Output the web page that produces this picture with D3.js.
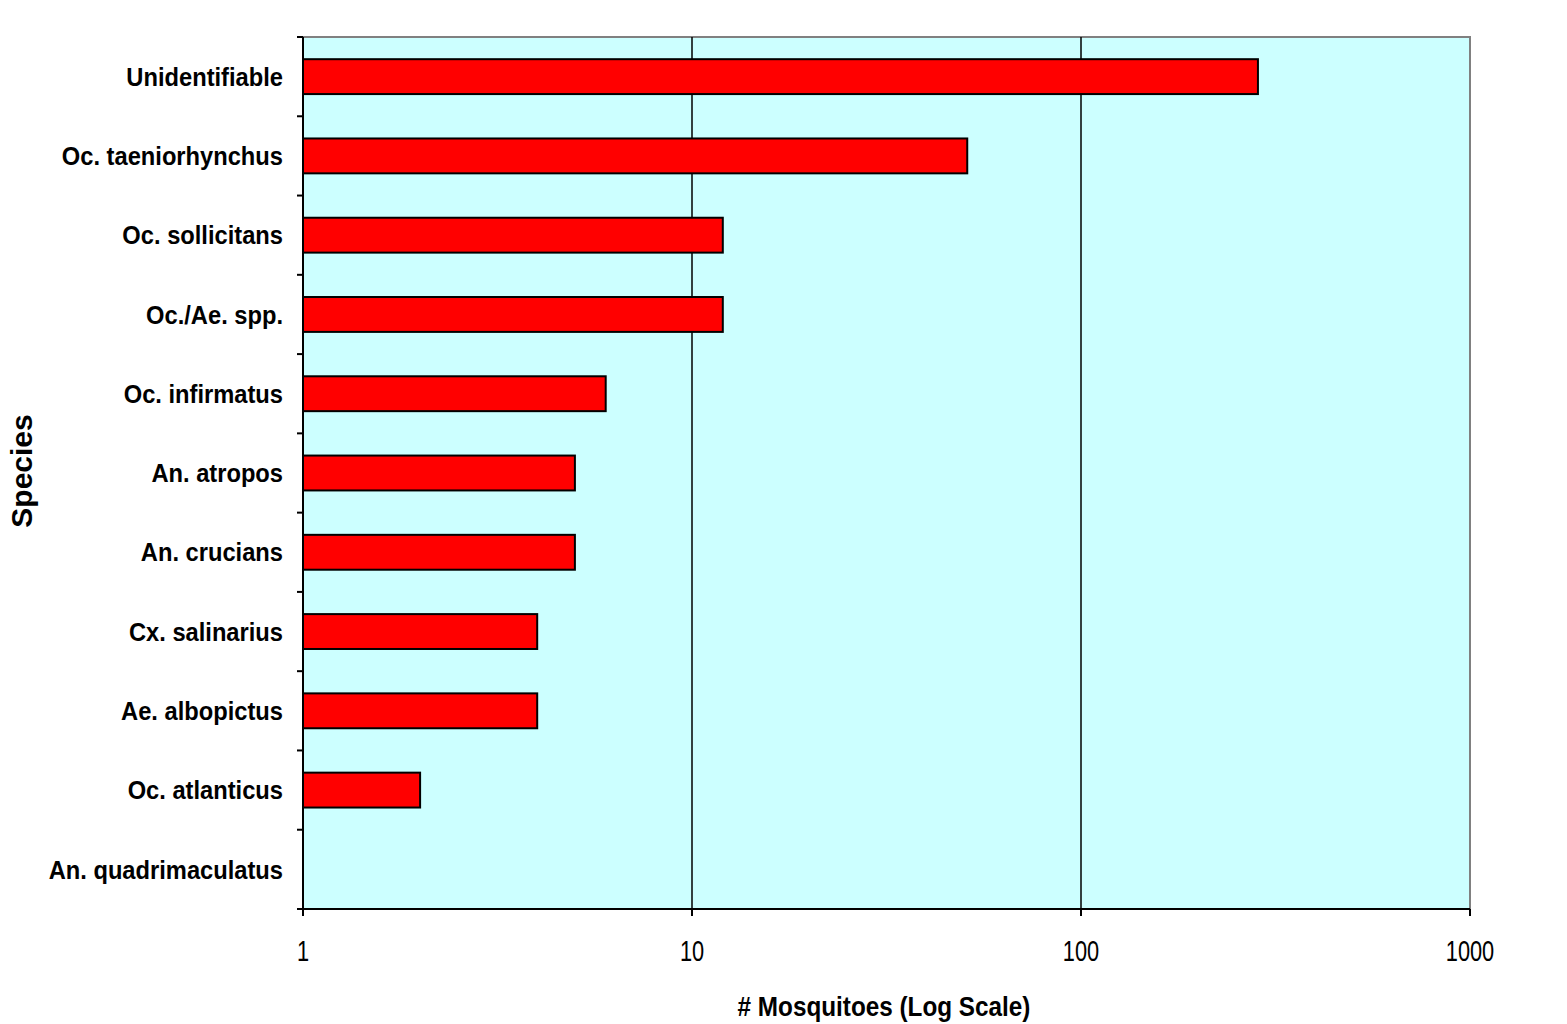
<!DOCTYPE html>
<html><head><meta charset="utf-8">
<script src="https://cdn.jsdelivr.net/npm/d3@7"></script>
<style>body{margin:0;background:#fff;} svg{display:block;}</style>
</head><body>
<svg id="c" width="1567" height="1024"></svg>
<script>
const categories = ["Unidentifiable","Oc. taeniorhynchus","Oc. sollicitans","Oc./Ae. spp.","Oc. infirmatus","An. atropos","An. crucians","Cx. salinarius","Ae. albopictus","Oc. atlanticus","An. quadrimaculatus"];
const counts = [285, 51, 12, 12, 6, 5, 5, 4, 4, 2, 1];
const xTicks = [1, 10, 100, 1000];

const FONT = "Liberation Sans, Arial, sans-serif";
const svg = d3.select("#c");
const L = 303, R = 1470, T = 37, B = 909;
const x = d3.scaleLog().domain([1, 1000]).range([L, R]);
const y = d3.scaleBand().domain(categories).range([T, B]).paddingInner(0.56).paddingOuter(0.28);

svg.append("rect").attr("x", L).attr("y", T).attr("width", R - L).attr("height", B - T)
  .attr("fill", "#ccffff").attr("stroke", "#808080").attr("stroke-width", 2);

// gridlines
svg.append("g").selectAll("line").data(xTicks.slice(1, -1)).join("line")
  .attr("x1", d => x(d)).attr("x2", d => x(d)).attr("y1", T).attr("y2", B)
  .attr("stroke", "#000").attr("stroke-width", 1.5);

// bars
svg.append("g").selectAll("rect").data(categories).join("rect")
  .attr("x", x(1)).attr("y", d => y(d))
  .attr("width", (d, i) => x(counts[i]) - x(1)).attr("height", y.bandwidth())
  .attr("fill", "#ff0000").attr("stroke", "#000").attr("stroke-width", 2);

// y axis
const step = (B - T) / categories.length;
const yAxis = svg.append("g");
yAxis.append("line").attr("x1", L).attr("x2", L).attr("y1", T).attr("y2", B).attr("stroke", "#000").attr("stroke-width", 2);
yAxis.selectAll("line.t").data(d3.range(categories.length + 1)).join("line").attr("class", "t")
  .attr("x1", L - 6).attr("x2", L).attr("y1", i => T + i * step).attr("y2", i => T + i * step)
  .attr("stroke", "#000").attr("stroke-width", 2);
yAxis.selectAll("g.lab").data(categories).join("g").attr("class", "lab")
  .attr("transform", d => `translate(${L - 20},${y(d) + y.bandwidth() / 2}) scale(1,1.08)`)
  .append("text").attr("dy", "0.36em")
  .attr("text-anchor", "end").attr("font-family", FONT)
  .attr("font-weight", "bold").attr("font-size", 23.7).attr("fill", "#000")
  .text(d => d);

// x axis
const xAxis = svg.append("g");
xAxis.append("line").attr("x1", L).attr("x2", R).attr("y1", B).attr("y2", B).attr("stroke", "#000").attr("stroke-width", 2);
xAxis.selectAll("line.t").data(xTicks).join("line").attr("class", "t")
  .attr("x1", d => x(d)).attr("x2", d => x(d)).attr("y1", B).attr("y2", B + 7)
  .attr("stroke", "#000").attr("stroke-width", 2);
xAxis.selectAll("g.tl").data(xTicks).join("g").attr("class", "tl")
  .attr("transform", d => `translate(${x(d)},961) scale(1,1.35)`)
  .append("text").attr("text-anchor", "middle")
  .attr("font-family", FONT).attr("font-size", 21.8).attr("fill", "#000")
  .text(d => d);

svg.append("g").attr("transform", "translate(884,1016) scale(1,1.15)")
  .append("text").attr("text-anchor", "middle")
  .attr("font-family", FONT).attr("font-weight", "bold").attr("font-size", 24.3)
  .text("# Mosquitoes (Log Scale)");
svg.append("text").attr("transform", "translate(32,471) rotate(-90)").attr("text-anchor", "middle")
  .attr("font-family", FONT).attr("font-weight", "bold").attr("font-size", 30)
  .text("Species");
</script>
</body></html>
